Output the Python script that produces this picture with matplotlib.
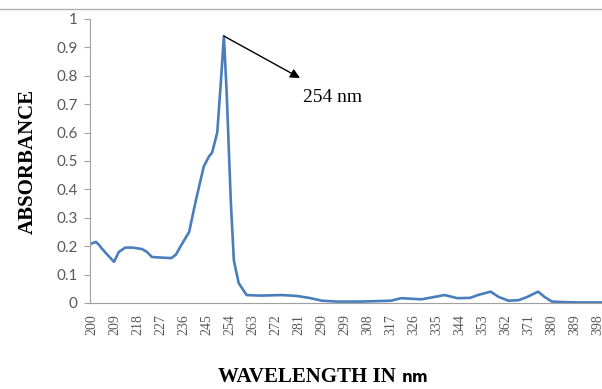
import numpy as np
import matplotlib.pyplot as plt
from matplotlib.lines import Line2D

# valores
longitud_onda = [200, 201.5, 202.7, 204, 206, 208.6, 210.5, 213, 216, 219.5, 221.5, 223.4,
                 227, 231, 232.8, 235, 238, 240.6, 243.7, 245.7, 247, 249, 250.4, 251.6,
                 252.7, 254.3, 255.5, 257.4, 260.5, 266, 274, 280, 285, 290, 296, 305,
                 317, 321, 329, 338, 343, 348, 351, 356, 359, 363, 367, 370, 374.6, 377,
                 380, 385, 390, 400]
absorbancia = [0.21, 0.215, 0.205, 0.19, 0.17, 0.145, 0.18, 0.195, 0.195, 0.19, 0.18, 0.162,
               0.16, 0.158, 0.17, 0.205, 0.25, 0.36, 0.48, 0.515, 0.53, 0.6, 0.775, 0.94,
               0.74, 0.36, 0.15, 0.07, 0.028, 0.026, 0.028, 0.025, 0.018, 0.008, 0.005, 0.005,
               0.008, 0.017, 0.013, 0.028, 0.017, 0.018, 0.028, 0.04, 0.022, 0.008, 0.01,
               0.02, 0.04, 0.022, 0.005, 0.003, 0.002, 0.002]
ticks_x = list(range(200, 400, 9))
ticks_y = [0, 0.1, 0.2, 0.3, 0.4, 0.5, 0.6, 0.7, 0.8, 0.9, 1]
etiquetas_y = ['0', '0.1', '0.2', '0.3', '0.4', '0.5', '0.6', '0.7', '0.8', '0.9', '1']
pico = (251.6, 0.94)

gris = '#595959'
fig = plt.figure(figsize=(6.02, 3.89), dpi=100)
ax = fig.add_axes([90 / 602, 86 / 389, 512 / 602, 284 / 389])

ax.plot(longitud_onda, absorbancia, color='#4a7ebb', linewidth=1.9, solid_joinstyle='round')

ax.set_xlim(199.2, 399.6)
ax.set_ylim(0, 1)
ax.set_yticks(ticks_y)
ax.set_yticklabels(etiquetas_y, fontsize=11, color=gris, family='Lato')
ax.set_xticks(ticks_x)
ax.set_xticklabels([str(t) for t in ticks_x], rotation=90, fontsize=10, color=gris,
                   family='Liberation Serif')
ax.tick_params(axis='y', length=4, color='#a0a0a0', pad=5)
ax.tick_params(axis='x', length=0, pad=8)

for lado in ['top', 'right']:
    ax.spines[lado].set_visible(False)
ax.spines['left'].set_color('#a0a0a0')
ax.spines['bottom'].set_color('#a0a0a0')

ax.annotate('', xy=(300 / 602, 1 - 78 / 389), xycoords='figure fraction',
            xytext=pico, textcoords='data',
            arrowprops=dict(arrowstyle='-|>', color='black', lw=1.0, mutation_scale=14,
                            shrinkA=0, shrinkB=0))
fig.text(303 / 602, 1 - 97 / 389, '254 nm', fontsize=14, family='Liberation Serif',
         va='center', ha='left')

fig.text(28 / 602, 1 - 162 / 389, 'ABSORBANCE', rotation=90, fontsize=15, fontweight='bold',
         family='Liberation Serif', ha='center', va='center')
fig.text(396 / 602, 1 - 377 / 389, 'WAVELENGTH IN', fontsize=15, fontweight='bold',
         family='Liberation Serif', ha='right', va='center')
fig.text(402 / 602, 1 - 378 / 389, 'nm', fontsize=11, fontweight='bold',
         family='DejaVu Sans', ha='left', va='center')

# linea del borde superior
fig.add_artist(Line2D([0, 1], [1 - 9 / 389, 1 - 9 / 389], transform=fig.transFigure,
                      color='#b0b0b0', linewidth=1.0))

fig.savefig('out.png', dpi=100)
